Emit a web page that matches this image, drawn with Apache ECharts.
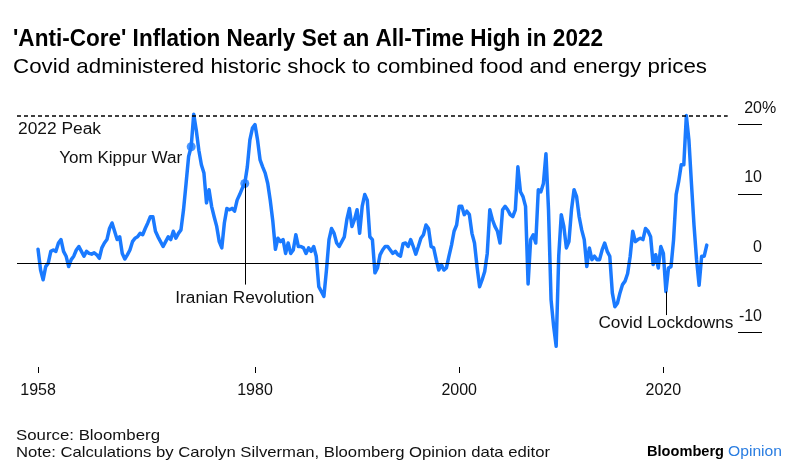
<!DOCTYPE html>
<html><head><meta charset="utf-8">
<script src="https://cdn.jsdelivr.net/npm/echarts@6/dist/echarts.min.js"></script>
<style>html,body{margin:0;padding:0;background:#fff}#c{width:795px;height:474px}</style>
</head><body><div id="c"></div>
<script>
// ---- data: quarterly anti-core (food + energy) inflation, % y/y ----
const startYear = 1958.75;   // first observation (Q4 1958), one value per quarter
const v1950s = [2.0, -1.0, -2.4, -0.5, 0.0];
const v1960s = [1.7,1.9,1.7,2.9, 3.4,1.7,1.0,-0.5, 0.5,1.0,1.9,2.4, 1.7,1.0,1.7,1.4, 1.3,1.5,1.2,0.7,
                2.2,2.9,3.4,5.0, 5.8,4.6,3.4,3.8, 1.4,0.6,1.2,1.9, 3.1,3.6,3.8,4.3, 4.1,5.0,5.8,6.7];
const v1970s = [6.7,4.6,3.8,3.1, 2.4,3.1,3.8,3.4, 4.6,3.6,4.3,4.8, 7.7,11.5,15.4,16.8, 21.5,19.2,16.3,14.2,
                13.0,8.7,10.6,8.2, 6.7,5.3,3.1,2.2, 5.8,7.9,7.7,7.9, 7.5,9.1,9.9,10.8, 11.5,13.9,17.8,19.5];
const v1980s = [20.0,17.8,14.9,13.9, 13.0,11.5,9.0,6.0, 2.0,3.6,3.1,3.4, 1.4,2.9,1.4,1.9, 4.1,2.4,2.4,2.2,
                1.4,2.2,1.7,2.4, 1.0,-3.4,-4.1,-4.8, -1.0,3.4,5.0,4.3, 2.9,2.4,3.1,3.8, 6.3,7.9,5.3,6.3];
const v1990s = [7.7,4.3,8.2,9.9, 9.1,3.8,3.4,-1.4, -0.7,1.2,1.9,2.4, 2.4,1.9,1.4,1.7, 1.2,1.0,2.8,2.9,
                2.4,3.4,2.4,1.3, 2.4,3.6,4.1,5.5, 5.0,2.4,2.2,0.5, -1.0,-0.2,-1.0,-0.7, 1.0,2.6,4.6,5.5];
const v2000s = [8.2,8.2,7.0,7.5, 7.0,4.3,2.9,-0.5, -3.4,-2.4,-1.2,1.4, 7.7,6.3,5.3,4.6, 2.9,7.7,8.2,7.7,
                7.0,6.7,7.7,13.9, 10.3,9.6,8.2,-3.0, 3.4,4.1,2.9,10.6, 10.3,11.5,15.8,7.7, -5.3,-9.1,-12.0,1.0];
const v2010s = [7.0,5.3,2.2,3.1, 7.7,10.6,9.6,6.7, 4.8,3.4,-0.5,2.2, 0.5,1.0,0.5,0.5, 1.9,2.9,1.7,1.0,
                -4.3,-6.3,-5.8,-4.3, -3.1,-2.6,-1.5,1.0, 4.6,3.1,3.4,3.6, 3.4,5.0,4.6,3.8, -0.2,1.2,-0.7,2.4];
const v2020s = [1.4,-4.1,-0.7,-0.5, 3.4,9.9,11.8,14.2, 14.2,21.3,17.8,11.5, 5.5,0.5,-3.2,1.0, 1.0,2.6];

const xTickYears = [1980, 2000, 2020];      // plus the first observation, labelled 1958
const yTicks = [-10, 0, 10, 20];
const annoLabels = ['Yom Kippur War', 'Iranian Revolution', 'Covid Lockdowns'];
const annoDates  = [1973.75, 1979.0, 2020.25];

// ---- build ----
const values = [].concat(v1950s, v1960s, v1970s, v1980s, v1990s, v2000s, v2010s, v2020s);
const dates = values.map((_, i) => startYear + i * 0.25);
const seriesData = dates.map((d, i) => [d, values[i]]);
const valAt = d => values[Math.round((d - startYear) / 0.25)];
const peak2022 = Math.max.apply(null, v2020s);

const BLUE = '#1a7aff';
const FAMILY = "'Liberation Sans', Arial, sans-serif";
const X_MIN = 1956.69, X_MAX = 2029.66, DASH_END = 2026.3;
const LEADER_END = [null, -3.1, -7.5];

const tickPos = [dates[0]].concat(xTickYears);

const chart = echarts.init(document.getElementById('c'), null, {renderer: 'canvas'});
const option = {
  animation: false,
  backgroundColor: '#fff',
  grid: {left: 17, right: 33, top: 90, bottom: 107, containLabel: false, outerBoundsMode: 'none'},
  xAxis: {
    type: 'value', min: X_MIN, max: X_MAX, position: 'bottom',
    axisLine: {show: false, onZero: false}, splitLine: {show: false},
    axisTick: {show: true, customValues: tickPos, length: 6, lineStyle: {color: '#000', width: 1}},
    axisLabel: {customValues: tickPos, formatter: v => String(Math.floor(v)),
      fontSize: 16, fontFamily: FAMILY, color: '#111', margin: 16}
  },
  yAxis: {
    type: 'value', min: -15, max: 25, position: 'right',
    axisLine: {show: false, onZero: false}, splitLine: {show: false},
    axisTick: {show: true, inside: true, length: 24, customValues: yTicks, lineStyle: {color: '#000', width: 1}},
    axisLabel: {inside: true, margin: 0, customValues: yTicks, fontSize: 16, fontFamily: FAMILY,
      color: '#111', verticalAlign: 'bottom', padding: [0, 0, 8, 0]}
  },
  series: [
    {
      type: 'line', name: 'ref', data: seriesData, z: 1, silent: true, showSymbol: false,
      lineStyle: {opacity: 0},
      markLine: {
        silent: true, symbol: ['none', 'none'], animation: false, label: {show: false},
        data: [
          {yAxis: 0, lineStyle: {color: '#000', width: 1, type: 'solid'}},
          [{coord: [X_MIN, peak2022], lineStyle: {color: '#000', width: 1.5, type: [4, 3]}},
           {coord: [DASH_END, peak2022]}],
          [{coord: [annoDates[1], valAt(annoDates[1])], lineStyle: {color: '#000', width: 1, type: 'solid'}},
           {coord: [annoDates[1], LEADER_END[1]]}],
          [{coord: [annoDates[2], valAt(annoDates[2])], lineStyle: {color: '#000', width: 1, type: 'solid'}},
           {coord: [annoDates[2], LEADER_END[2]]}]
        ]
      }
    },
    {
      type: 'line', name: 'Anti-core inflation', data: seriesData, z: 3, showSymbol: false,
      lineStyle: {color: BLUE, width: 3.5, join: 'round', cap: 'round'}
    },
    {
      type: 'scatter', data: [annoDates[0], annoDates[1]].map(d => [d, valAt(d)]),
      symbolSize: 9, itemStyle: {color: BLUE}, z: 4, silent: true
    }
  ]
};
chart.setOption(option);

// ---- text ----
const ctx = document.createElement('canvas').getContext('2d');
function measure(text, font) { ctx.font = font; return ctx.measureText(text).width; }
function txt(text, x, y, size, o) {
  o = o || {};
  const font = (o.weight || 'normal') + ' ' + size + 'px ' + FAMILY;
  const al = o.align || 'left', va = o.valign || 'middle';
  const el = {type: 'text', x: x, y: y, z: 100, silent: true,
    style: {text: text, font: font, fill: o.color || '#111',
      textAlign: al, align: al, textVerticalAlign: va, verticalAlign: va}};
  if (o.width) { el.scaleX = o.width / measure(text, font); }
  return el;
}
const P = (x, y) => chart.convertToPixel({gridIndex: 0}, [x, y]);

const gr = [];
gr.push(txt("'Anti-Core' Inflation Nearly Set an All-Time High in 2022", 13, 40, 23, {weight: 'bold', color: '#000', width: 590}));
gr.push(txt('Covid administered historic shock to combined food and energy prices', 13, 67, 21, {color: '#000', width: 694}));
gr.push(txt('Source: Bloomberg', 16, 436, 15, {width: 144}));
gr.push(txt('Note: Calculations by Carolyn Silverman, Bloomberg Opinion data editor', 16, 453, 15, {width: 534}));
gr.push(txt('Opinion', 782, 452, 14, {align: 'right', color: '#2a7de1', width: 54}));
gr.push(txt('Bloomberg', 724, 452, 14, {align: 'right', weight: 'bold', color: '#000', width: 77}));

const pPeak = P(X_MIN, peak2022);
gr.push(txt('2022 Peak', pPeak[0] + 1, pPeak[1] + 14, 16, {width: 83}));
const p20 = P(X_MAX, 20);
gr.push(txt('%', p20[0], p20[1] - 16, 16));

const d0 = P(annoDates[0], valAt(annoDates[0]));
gr.push(txt(annoLabels[0], d0[0] - 9, d0[1] + 12, 16, {align: 'right', width: 123}));
const e1 = P(annoDates[1], LEADER_END[1]);
gr.push(txt(annoLabels[1], e1[0], e1[1] + 14, 16, {align: 'center', width: 139}));
const e2 = P(annoDates[2], LEADER_END[2]);
gr.push(txt(annoLabels[2], e2[0], e2[1] + 9, 16, {align: 'center', width: 135}));

chart.setOption({graphic: gr});
</script>
</body></html>
